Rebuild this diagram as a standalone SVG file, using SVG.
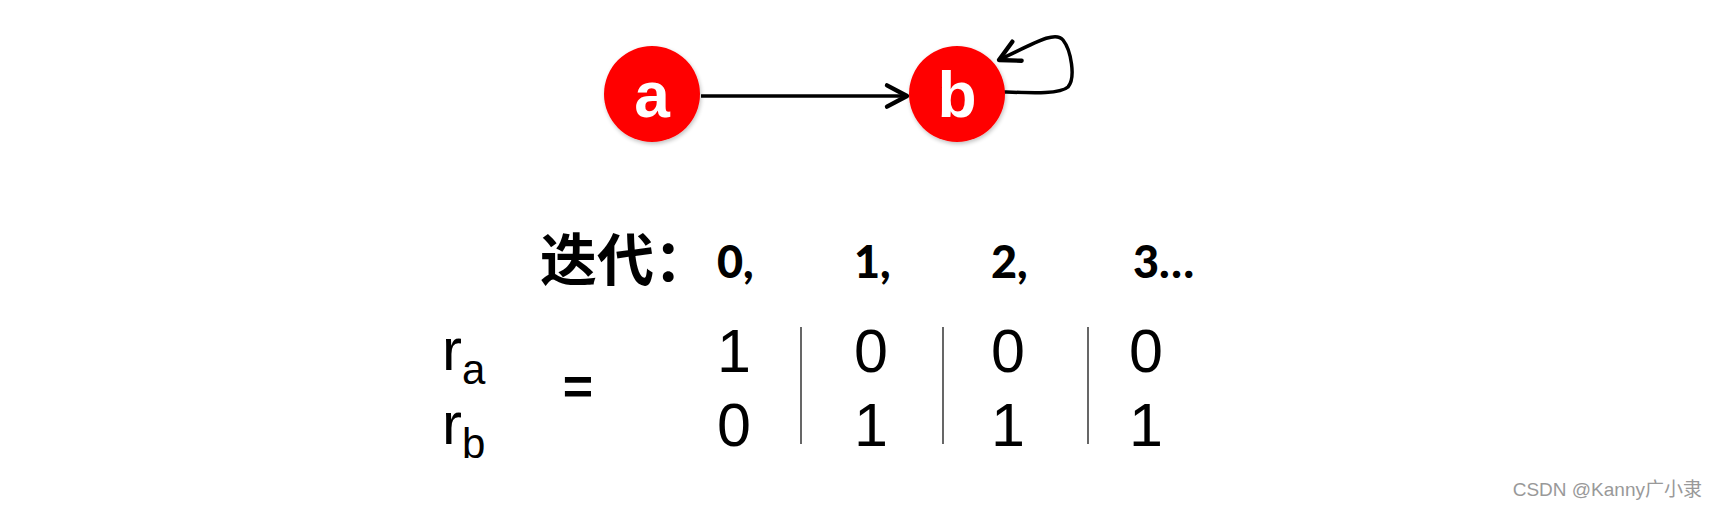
<svg xmlns="http://www.w3.org/2000/svg" width="1718" height="509" viewBox="0 0 1718 509">
<style>
.node{fill:#ff0000;}
.nlabel{font-family:"Liberation Sans",Arial,sans-serif;font-weight:bold;font-size:64px;fill:#ffffff;text-anchor:middle;}
.edge{fill:none;stroke:#000;stroke-width:3.5;}
.iter{font-family:Lato,"Open Sans",sans-serif;font-weight:900;font-size:45px;fill:#000;}
.cjk{font-family:"Noto Sans CJK SC",sans-serif;font-weight:bold;font-size:57px;fill:#000;}
.num{font-family:"Liberation Sans",Arial,sans-serif;font-size:61px;fill:#000;text-anchor:middle;}
.div{stroke:#000;stroke-width:1.2;}
.wm{font-family:"Liberation Sans","Noto Sans CJK SC",sans-serif;font-size:19px;fill:#999;}
</style>
<defs>
<marker id="arr" markerUnits="userSpaceOnUse" markerWidth="30" markerHeight="30" viewBox="-20 -12 24 24" refX="0" refY="0" orient="auto">
<path d="M-16,-8.5 L0,0 L-16,8.5" fill="none" stroke="#000" stroke-width="3.5" stroke-linecap="round" stroke-linejoin="round"/>
</marker>
<filter id="sh" x="-20%" y="-20%" width="140%" height="140%">
<feGaussianBlur in="SourceAlpha" stdDeviation="2"/>
<feOffset dx="1" dy="2" result="b"/>
<feComponentTransfer><feFuncA type="linear" slope="0.25"/></feComponentTransfer>
<feMerge><feMergeNode/><feMergeNode in="SourceGraphic"/></feMerge>
</filter>
</defs>
<rect width="1718" height="509" fill="#fff"/>
<g id="connectors">
<line class="edge" x1="701" y1="96" x2="907" y2="96" marker-end="url(#arr)"/>
<path class="edge" d="M1004,92 C1035,93 1060,94 1068,87 C1076,78 1071,50 1063,40 C1056,31 1040,40 999,60" marker-end="url(#arr)"/>
</g>
<g id="node-a">
<circle class="node" cx="652" cy="94" r="48" filter="url(#sh)"/>
<text class="nlabel" x="652" y="117">a</text>
</g>
<g id="node-b">
<circle class="node" cx="957" cy="94" r="48" filter="url(#sh)"/>
<text class="nlabel" x="957" y="117">b</text>
</g>
<g id="iterations">
<text class="cjk" x="540" y="281">迭代：</text>
<text class="iter" x="717" y="278">0,</text>
<text class="iter" x="854" y="278">1,</text>
<text class="iter" x="991" y="278">2,</text>
<text class="iter" x="1133" y="278">3…</text>
</g>
<g id="table">
<text x="442" y="370" font-family="Liberation Sans, Arial, sans-serif" font-size="60">r<tspan font-size="42" dy="14">a</tspan></text>
<text x="442" y="444" font-family="Liberation Sans, Arial, sans-serif" font-size="60">r<tspan font-size="42" dy="14">b</tspan></text>
<text x="578" y="404" font-family="Liberation Sans, Arial, sans-serif" font-weight="bold" font-size="52" text-anchor="middle">=</text>
<text class="num" x="734" y="372">1</text>
<text class="num" x="734" y="446">0</text>
<text class="num" x="871" y="372">0</text>
<text class="num" x="871" y="446">1</text>
<text class="num" x="1008" y="372">0</text>
<text class="num" x="1008" y="446">1</text>
<text class="num" x="1146" y="372">0</text>
<text class="num" x="1146" y="446">1</text>
<line class="div" x1="801" y1="327" x2="801" y2="444"/>
<line class="div" x1="943" y1="327" x2="943" y2="444"/>
<line class="div" x1="1088" y1="327" x2="1088" y2="444"/>
</g>
<text class="wm" x="1702" y="496" text-anchor="end">CSDN @Kanny广小隶</text>
</svg>
